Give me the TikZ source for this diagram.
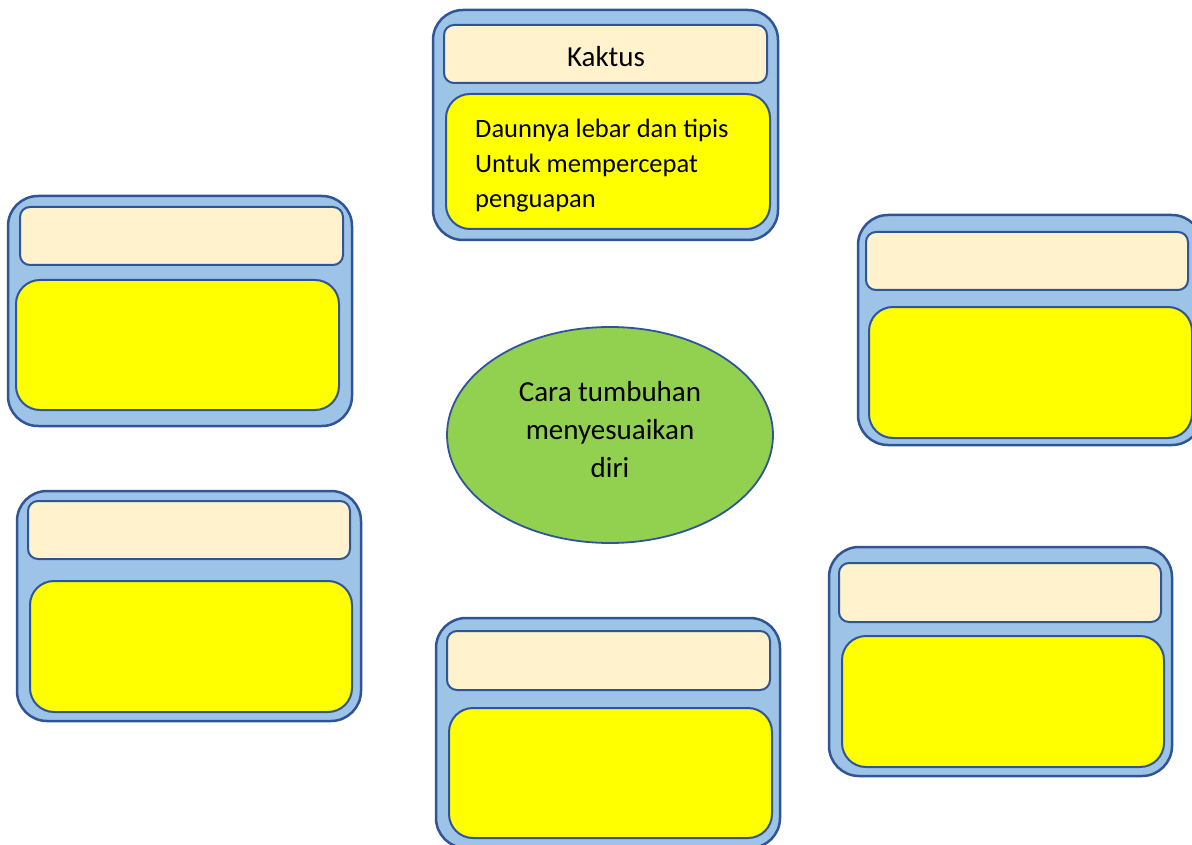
\documentclass[tikz,border=0pt]{standalone}
\usepackage{fontspec}
\setmainfont{Carlito}
\usetikzlibrary{shapes.geometric}
\definecolor{outerfill}{HTML}{9DC3E6}
\definecolor{edge}{HTML}{2F5597}
\definecolor{headfill}{HTML}{FFF2CC}
\definecolor{bodyfill}{HTML}{FFFF00}
\definecolor{ellfill}{HTML}{92D050}
\tikzset{
  outerbox/.style={draw=edge, line width=2.5pt, fill=outerfill, rounded corners=30pt, inner sep=0pt, outer sep=0pt},
  headbox/.style={draw=edge, line width=2pt, fill=headfill, rounded corners=10pt, inner sep=0pt, outer sep=0pt},
  bodybox/.style={draw=edge, line width=2pt, fill=bodyfill, rounded corners=24pt, inner sep=0pt, outer sep=0pt},
  centerell/.style={ellipse, draw=edge, line width=1.8pt, fill=ellfill, inner sep=0pt, minimum width=326pt, minimum height=216pt},
  label/.style={font=\fontsize{26.5}{35}\selectfont, text=black, inner sep=0pt},
}
\begin{document}
\begin{tikzpicture}[x=1pt, y=-1pt]
\useasboundingbox (0,0) rectangle (1192,845);
\clip (0,0) rectangle (1192,845);
% top card
\node[outerbox, minimum width=345pt, minimum height=230pt] (topO) at (605.5,125) {};
\node[headbox, minimum width=323pt, minimum height=58pt] (topH) at (605.5,54) {};
\node[bodybox, minimum width=324pt, minimum height=135pt] (topB) at (608,161.5) {};
\node[label, font=\fontsize{29}{35}\selectfont] (topHt) at (606,57) {Kaktus};
\node[label, anchor=north west, align=left] (topBt) at (475,119) {Daunnya lebar dan tipis\\Untuk mempercepat\\penguapan};
% left top card
\node[outerbox, minimum width=344pt, minimum height=230pt] (ltO) at (180,311) {};
\node[headbox, minimum width=323pt, minimum height=58pt] (ltH) at (181.5,236) {};
\node[bodybox, minimum width=323pt, minimum height=130pt] (ltB) at (177.5,345) {};
% right top card
\node[outerbox, minimum width=344pt, minimum height=230pt] (rtO) at (1030,330) {};
\node[headbox, minimum width=322pt, minimum height=58pt] (rtH) at (1027,261) {};
\node[bodybox, minimum width=323pt, minimum height=131pt] (rtB) at (1030.5,372.5) {};
% left bottom card
\node[outerbox, minimum width=344pt, minimum height=230pt] (lbO) at (189,606) {};
\node[headbox, minimum width=322pt, minimum height=58pt] (lbH) at (189,530) {};
\node[bodybox, minimum width=322pt, minimum height=131pt] (lbB) at (191,646.5) {};
% bottom middle card
\node[outerbox, minimum width=344pt, minimum height=230pt] (bmO) at (608,733) {};
\node[headbox, minimum width=323pt, minimum height=59pt] (bmH) at (608.5,660.5) {};
\node[bodybox, minimum width=323pt, minimum height=130pt] (bmB) at (610.5,773) {};
% right bottom card
\node[outerbox, minimum width=343pt, minimum height=229pt] (rbO) at (1000.5,661.5) {};
\node[headbox, minimum width=322pt, minimum height=59pt] (rbH) at (1000,592.5) {};
\node[bodybox, minimum width=322pt, minimum height=131pt] (rbB) at (1003,701.5) {};
% centre ellipse
\node[centerell] (ell) at (610,435) {};
\node[label, align=center, font=\fontsize{29}{38}\selectfont] (ellt) at (610,430) {Cara tumbuhan\\menyesuaikan\\diri};
\end{tikzpicture}
\end{document}
